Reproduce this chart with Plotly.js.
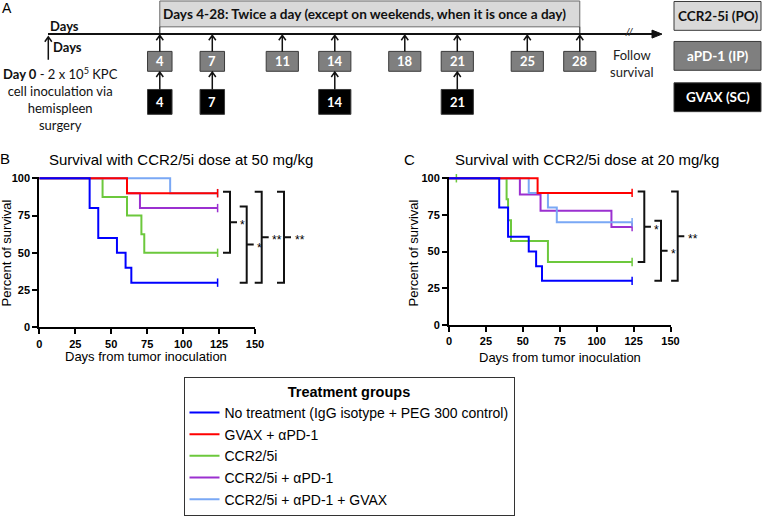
<!DOCTYPE html>
<html>
<head>
<meta charset="utf-8">
<script src="https://cdn.plot.ly/plotly-3.0.1.min.js"></script>
<style>
  body { margin: 0; background: #fff; }
  #chart { width: 763px; height: 516px; }
</style>
</head>
<body>
<div id="chart"></div>
<script>
const W = 763, H = 516;
const px = x => x / W;
const py = y => 1 - y / H;

// treatment groups (legend order)
const groupNames = [
  'No treatment (IgG isotype + PEG 300 control)',
  'GVAX + αPD-1',
  'CCR2/5i',
  'CCR2/5i + αPD-1',
  'CCR2/5i + αPD-1 + GVAX'
];
const groupColors = ['#0000ff', '#ff0000', '#6cc83c', '#9b30d0', '#7aa8f5'];

// panel B: CCR2/5i at 50 mg/kg - step times (days) and percent survival
const daysB = [
  [0, 35, 41, 54, 60, 64, 124],
  [0, 61, 124],
  [0, 44, 61, 71, 73, 124],
  [0, 61, 70, 124],
  [0, 91, 124]
];
const survB = [
  [100, 80, 60, 50, 40, 30, 30],
  [100, 90, 90],
  [100, 87.5, 75, 62.5, 50, 50],
  [100, 90, 80, 80],
  [100, 90, 90]
];
const censorB = [[124], [124], [124], [124], [124]];

// panel C: CCR2/5i at 20 mg/kg
const daysC = [
  [0, 34, 40, 54, 59, 63, 124],
  [0, 60, 124],
  [0, 39, 40, 42, 67, 124],
  [0, 48, 62, 110, 124],
  [0, 54, 67, 73, 124]
];
const survC = [
  [100, 80, 60, 50, 40, 30, 30],
  [100, 90, 90],
  [100, 85.7, 71.4, 57.1, 42.9, 42.9],
  [100, 88.9, 77.8, 66.7, 66.7],
  [100, 90, 80, 70, 70]
];
const censorC = [[124], [124], [5, 124], [124], [124]];

// significance brackets: [upper group, lower group, label]
const sigB = [[1, 2, '*'], [3, 0, '*'], [1, 0, '**'], [4, 0, '**']];
const sigC = [[1, 2, '*'], [4, 0, '*'], [1, 0, '**']];

// dosing timeline (panel A)
const pd1Days = [4, 7, 11, 14, 18, 21, 25, 28];
const gvaxDays = [4, 7, 14, 21];
const ccrDays = [4, 28];
const ccrText = 'Days 4-28: Twice a day (except on weekends, when it is once a day)';
const keyLabels = ['CCR2-5i (PO)', 'aPD-1 (IP)', 'GVAX (SC)'];

const ARIAL = 'Liberation Sans, Arial, sans-serif';
const CALIB = 'Lato, Open Sans, sans-serif';

function survAt(t, s, day) {
  let v = s[0];
  for (let i = 0; i < t.length; i++) if (t[i] <= day) v = s[i];
  return v;
}

// blue ends up on top, then red
const drawOrder = [2, 3, 4, 1, 0];
const traces = [];
function addPanel(days, surv, censor, xa, ya, legend) {
  drawOrder.forEach(g => {
    traces.push({
      x: days[g], y: surv[g], xaxis: xa, yaxis: ya,
      type: 'scatter', mode: 'lines',
      line: {shape: 'hv', color: groupColors[g], width: 2},
      name: groupNames[g], legendgroup: 'g' + g, legendrank: g + 1,
      showlegend: legend, hoverinfo: 'skip'
    });
    traces.push({
      x: censor[g], y: censor[g].map(d => survAt(days[g], surv[g], d)),
      xaxis: xa, yaxis: ya, type: 'scatter', mode: 'markers',
      marker: {symbol: 'line-ns-open', size: 6, color: groupColors[g],
        line: {color: groupColors[g], width: 1.5}},
      legendgroup: 'g' + g, showlegend: false, hoverinfo: 'skip', cliponaxis: false
    });
  });
}
addPanel(daysB, survB, censorB, 'x', 'y', true);
addPanel(daysC, survC, censorC, 'x2', 'y2', false);

const shapes = [];
const annotations = [];

function txt(x, y, text, size, opts) {
  annotations.push(Object.assign({
    x: px(x), y: py(y), xref: 'paper', yref: 'paper', text: text, showarrow: false,
    xanchor: 'center', yanchor: 'middle',
    font: {family: ARIAL, size: size, color: '#000'}
  }, opts || {}));
}

// brackets with stars
function addBrackets(sig, surv, yref, xs, arm) {
  sig.forEach((b, i) => {
    const top = surv[b[0]][surv[b[0]].length - 1] + 1;
    const bot = surv[b[1]][surv[b[1]].length - 1];
    const mid = (top + bot) / 2;
    const xv = xs[i];
    shapes.push({
      type: 'path', xref: 'paper', yref: yref,
      path: `M${px(xv - arm)},${top} L${px(xv)},${top} L${px(xv)},${bot} L${px(xv - arm)},${bot} M${px(xv)},${mid} L${px(xv + arm)},${mid}`,
      line: {color: '#111', width: 2}
    });
    annotations.push({
      x: px(xv + arm + 1.5), y: mid, xref: 'paper', yref: yref, xanchor: 'left', yanchor: 'middle',
      text: b[2], showarrow: false, yshift: -3,
      font: {family: ARIAL, size: 12, color: '#000'}
    });
  });
}
addBrackets(sigB, survB, 'y', [230, 246.7, 261.7, 284], 7);
addBrackets(sigC, survC, 'y2', [644.3, 661, 677.7], 6.6);

// ---- panel A: timeline ----
function arrowPath(xd, yBot, yTop, ref) {
  const hw = ref === 'x3' ? 0.2 : px(3.5);
  return `M${xd},${py(yBot)} L${xd},${py(yTop)} M${xd - hw},${py(yTop + 5)} L${xd},${py(yTop)} L${xd + hw},${py(yTop + 5)}`;
}
// ccr dosing window
shapes.push({type: 'rect', xref: 'x3', yref: 'paper', x0: ccrDays[0], x1: ccrDays[1],
  y0: py(27), y1: py(1), fillcolor: '#d9d9d9', line: {color: '#6a6a6a', width: 1}});
shapes.push({type: 'path', xref: 'x3', yref: 'paper',
  path: `M${ccrDays[0]},${py(27)} L${ccrDays[0]},${py(34)} M${ccrDays[1]},${py(27)} L${ccrDays[1]},${py(34)}`,
  line: {color: '#333', width: 1.2}});
annotations.push({x: (ccrDays[0] + ccrDays[1]) / 2 - 0.3, y: py(14), xref: 'x3', yref: 'paper',
  xanchor: 'center', yanchor: 'middle',
  text: '<b>' + ccrText + '</b>', showarrow: false, font: {family: CALIB, size: 13.6, color: '#111'}});

// main time axis
shapes.push({type: 'line', xref: 'paper', yref: 'paper', x0: px(48), x1: px(655), y0: py(34.3), y1: py(34.3),
  line: {color: '#111', width: 2}});
shapes.push({type: 'path', xref: 'paper', yref: 'paper',
  path: `M${px(652)},${py(30.3)} L${px(662)},${py(34.3)} L${px(652)},${py(38.3)} Z`,
  fillcolor: '#111', line: {color: '#111', width: 1}});
txt(629, 32, '<i>//</i>', 11, {font: {family: ARIAL, size: 11, color: '#333'}});
txt(64.5, 26, '<b>Days</b>', 13, {font: {family: CALIB, size: 13, color: '#111'}});
shapes.push({type: 'path', xref: 'paper', yref: 'paper', path: arrowPath(px(48.3), 60, 37, 'paper'),
  line: {color: '#111', width: 1.5}});
txt(67, 47.7, '<b>Days</b>', 13, {font: {family: CALIB, size: 13, color: '#111'}});
txt(60, 99.5, '<b>Day 0</b> - 2 x 10<sup>5</sup> KPC<br>cell inoculation via<br>hemispleen<br>surgery', 13,
  {font: {family: CALIB, size: 13, color: '#111'}});
txt(631.5, 64, 'Follow<br>survival', 13, {font: {family: CALIB, size: 13, color: '#222'}});

function doseBoxes(days, yTop, yBot, fill, arrowTo) {
  days.forEach(d => {
    const hw = d < 10 ? 0.7 : 0.92;
    shapes.push({type: 'rect', xref: 'x3', yref: 'paper', x0: d - hw, x1: d + hw,
      y0: py(yBot), y1: py(yTop), fillcolor: fill, line: {color: '#3a3a3a', width: 1}});
    shapes.push({type: 'path', xref: 'x3', yref: 'paper', path: arrowPath(d, yTop, arrowTo, 'x3'),
      line: {color: '#111', width: 1.5}});
    annotations.push({x: d, y: py((yTop + yBot) / 2), xref: 'x3', yref: 'paper', text: '<b>' + d + '</b>',
      xanchor: 'center', yanchor: 'middle',
      showarrow: false, font: {family: CALIB, size: 13, color: '#fff'}});
  });
}
doseBoxes(pd1Days, 51.7, 71.7, '#7f7f7f', 35.5);
doseBoxes(gvaxDays, 90, 115, '#000000', 72.5);

// key boxes on the right
const keyFill = ['#d9d9d9', '#7f7f7f', '#000000'];
const keyText = ['#111', '#fff', '#fff'];
const keyTop = [1.5, 41.7, 83.3];
keyLabels.forEach((k, i) => {
  shapes.push({type: 'rect', xref: 'paper', yref: 'paper', x0: px(674), x1: px(761),
    y0: py(keyTop[i] + 29), y1: py(keyTop[i]), fillcolor: keyFill[i], line: {color: '#3a3a3a', width: 1}});
  txt(717.5, keyTop[i] + 14.5, '<b>' + k + '</b>', 13, {font: {family: CALIB, size: 13.5, color: keyText[i]}});
});
txt(7, 8, 'A', 14);

// ---- panels B and C: labels ----
txt(5, 159, 'B', 15);
txt(409, 160, 'C', 15);
txt(181, 160.7, 'Survival with CCR2/5i dose at 50 mg/kg', 15);
txt(587, 160.7, 'Survival with CCR2/5i dose at 20 mg/kg', 15);
txt(7, 255, 'Percent of survival', 13, {textangle: -90});
txt(414, 255, 'Percent of survival', 13, {textangle: -90});
txt(146, 358.3, 'Days from tumor inoculation', 13);
txt(559.5, 359.3, 'Days from tumor inoculation', 13);

const xAxisBase = {
  range: [0, 150], tickvals: [0, 25, 50, 75, 100, 125, 150],
  showline: true, linecolor: '#000', linewidth: 2, ticks: 'outside', ticklen: 5,
  tickwidth: 2, tickcolor: '#000', showgrid: false, zeroline: false, fixedrange: true,
  tickfont: {family: ARIAL, size: 11, color: '#000', weight: 'bold'}
};
const yAxisBase = {
  range: [0, 101], tickvals: [0, 25, 50, 75, 100],
  showline: true, linecolor: '#000', linewidth: 2, ticks: 'outside', ticklen: 5,
  tickwidth: 2, tickcolor: '#000', showgrid: false, zeroline: false, fixedrange: true,
  tickfont: {family: ARIAL, size: 11, color: '#000', weight: 'bold'}
};

const layout = {
  width: W, height: H,
  margin: {l: 0, r: 0, t: 0, b: 0},
  paper_bgcolor: '#fff', plot_bgcolor: 'rgba(0,0,0,0)',
  xaxis: Object.assign({}, xAxisBase, {domain: [px(39.3), px(255)], anchor: 'y'}),
  yaxis: Object.assign({}, yAxisBase, {domain: [py(329.3), py(177.8)], anchor: 'x'}),
  xaxis2: Object.assign({}, xAxisBase, {domain: [px(449), px(670.5)], anchor: 'y2'}),
  yaxis2: Object.assign({}, yAxisBase, {domain: [py(326.7), py(177.8)], anchor: 'x2'}),
  // hidden scale for the dosing timeline (days -> page position)
  xaxis3: {domain: [0, 1], range: [-5.131, 38.469], visible: false, anchor: 'y3', fixedrange: true},
  yaxis3: {domain: [0, 1], range: [0, 1], visible: false, anchor: 'x3', fixedrange: true},
  showlegend: true,
  legend: {
    x: px(183.5), y: py(379.5), xanchor: 'left', yanchor: 'top',
    bgcolor: '#fff', bordercolor: '#333', borderwidth: 1,
    font: {family: ARIAL, size: 14, color: '#000'},
    title: {text: '<b>Treatment groups</b>', side: 'top center', font: {family: ARIAL, size: 14.5, color: '#000'}},
    tracegroupgap: 0.5, itemwidth: 30
  },
  shapes: shapes,
  annotations: annotations
};

Plotly.newPlot('chart', traces, layout, {displayModeBar: false, staticPlot: true});
</script>
</body>
</html>
